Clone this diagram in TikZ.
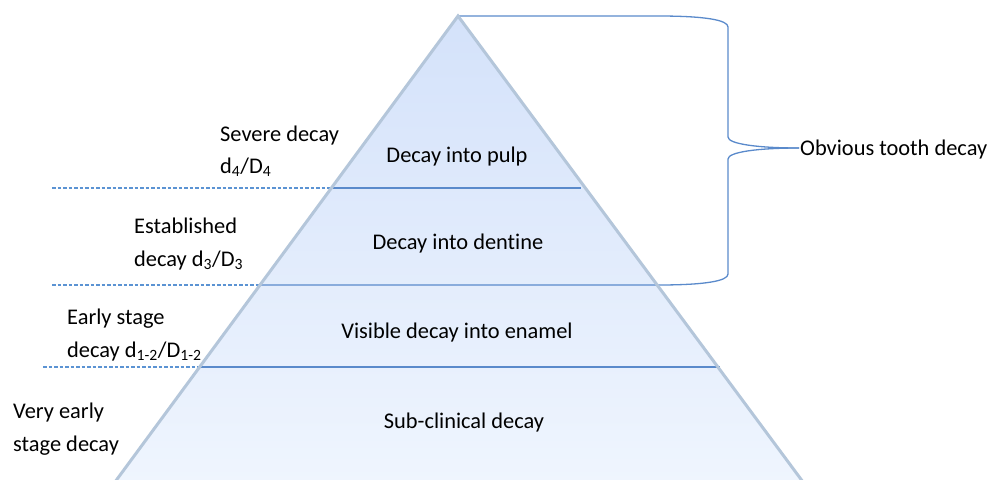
\documentclass[tikz,border=0pt]{standalone}
\usepackage{fontspec}
\setmainfont{Carlito}[Ligatures=NoCommon]
\definecolor{edgegray}{HTML}{B4C6DA}
\definecolor{fillTop}{HTML}{D4E2FA}
\definecolor{fillBot}{HTML}{EFF5FE}
\definecolor{lineblue}{HTML}{5A8ACB}
\definecolor{dashblue}{HTML}{5B93D3}
\begin{document}
\begin{tikzpicture}[x=1pt,y=-1pt,
  lbl/.style={inner sep=0pt,anchor=base west,font=\fontsize{22.4}{27}\selectfont},
  ctr/.style={inner sep=0pt,anchor=base,font=\fontsize{22.4}{27}\selectfont},
  solidline/.style={draw=lineblue,line width=1.3pt},
  dashline/.style={draw=dashblue,line width=1.1pt,dash pattern=on 3.5pt off 2pt}]
\useasboundingbox (0,0) rectangle (992,479);
% pyramid
\coordinate (apex) at (458,16);
\coordinate (bl) at (113.5,484);
\coordinate (br) at (804.5,484);
\shade[top color=fillTop,bottom color=fillBot] (apex) -- (br) -- (bl) -- cycle;
% level lines
\coordinate (d1a) at (52,188); \coordinate (d1b) at (333,188); \coordinate (s1b) at (581,188);
\coordinate (d2a) at (52,285); \coordinate (d2b) at (259,285);
\coordinate (d3a) at (43,367); \coordinate (d3b) at (199,367); \coordinate (s3b) at (720,367);
\draw[dashline] (d1a) -- (d1b);
\draw[dashline] (d2a) -- (d2b);
\draw[dashline] (d3a) -- (d3b);
\draw[solidline] (d1b) -- (s1b);
\draw[solidline] (d3b) -- (s3b);
% brace
\coordinate (tip) at (799,148);
\draw[solidline] (apex) -- (658,16) .. controls (705,16) and (728,20) .. (728,27)
  -- (728,137) .. controls (728,144) and (758,148) .. (tip);
\draw[solidline] (tip) .. controls (758,148) and (728,152) .. (728,159)
  -- (728,274) .. controls (728,281) and (705,285) .. (658,285) -- (d2b);
% pyramid edges
\draw[edgegray,line width=3pt] (bl) -- (apex) -- (br);
% texts
\node[ctr] (t1) at (457,162) {Decay into pulp};
\node[ctr] (t2) at (458,249) {Decay into dentine};
\node[ctr] (t3) at (457,338) {Visible decay into enamel};
\node[ctr] (t4) at (464,428) {Sub-clinical decay};
\node[lbl] (ob) at (800,155) {Obvious tooth decay};
\node[lbl] (a1) at (220,141) {Severe decay};
\node[lbl] (a2) at (220,173) {d\textsubscript{4}/D\textsubscript{4}};
\node[lbl] (b1) at (134,233) {Established};
\node[lbl] (b2) at (134,266) {decay d\textsubscript{3}/D\textsubscript{3}};
\node[lbl] (c1) at (67,324) {Early stage};
\node[lbl] (c2) at (67,357) {decay d\textsubscript{1-2}/D\textsubscript{1-2}};
\node[lbl] (e1) at (13,418) {Very early};
\node[lbl] (e2) at (13,451) {stage decay};
\end{tikzpicture}
\end{document}
